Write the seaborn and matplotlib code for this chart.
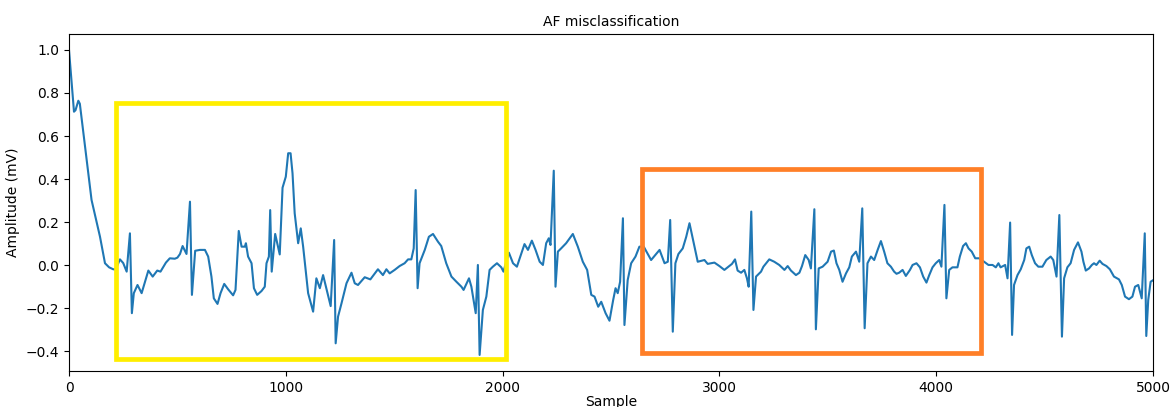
import matplotlib
matplotlib.use("Agg")
import matplotlib.pyplot as plt
from matplotlib.patches import Rectangle
import seaborn as sns
import pandas as pd

# ---- data (ECG trace, key points) ----
sample = [0, 23, 30, 43, 50, 74, 104, 143, 160, 166, 185, 204, 215, 235, 250, 266, 281, 290, 299, 316,
          335, 366, 386, 407, 422, 447, 465, 488, 500, 512, 524, 542, 558, 567, 582, 604, 627, 642, 657, 668,
          685, 699, 716, 734, 757, 768, 783, 796, 811, 816, 826, 842, 853, 868, 888, 903, 911, 922, 928, 935,
          951, 972, 985, 1000, 1011, 1022, 1031, 1041, 1057, 1069, 1080, 1103, 1126, 1141, 1157, 1172, 1187, 1207, 1223, 1230,
          1241, 1257, 1280, 1303, 1318, 1333, 1364, 1390, 1425, 1448, 1464, 1479, 1502, 1525, 1548, 1564, 1579, 1590, 1599, 1608,
          1617, 1641, 1660, 1679, 1702, 1717, 1740, 1764, 1787, 1810, 1820, 1845, 1856, 1876, 1886, 1894, 1909, 1925, 1940, 1955,
          1974, 1994, 2004, 2029, 2048, 2066, 2101, 2117, 2135, 2152, 2171, 2186, 2201, 2213, 2221, 2236, 2244, 2255, 2270, 2293,
          2324, 2347, 2370, 2390, 2409, 2424, 2441, 2455, 2475, 2493, 2510, 2521, 2531, 2542, 2555, 2562, 2577, 2593, 2613, 2631,
          2651, 2685, 2724, 2747, 2762, 2773, 2785, 2797, 2811, 2831, 2847, 2862, 2877, 2900, 2931, 2946, 2977, 3000, 3023, 3038,
          3058, 3072, 3084, 3100, 3115, 3127, 3135, 3147, 3157, 3169, 3192, 3203, 3230, 3253, 3276, 3300, 3315, 3330, 3353, 3369,
          3381, 3396, 3412, 3422, 3438, 3445, 3458, 3476, 3499, 3515, 3528, 3540, 3553, 3568, 3584, 3599, 3611, 3630, 3645, 3659,
          3670, 3683, 3699, 3714, 3730, 3745, 3760, 3775, 3791, 3806, 3817, 3829, 3845, 3860, 3879, 3891, 3909, 3925, 3940, 3955,
          3968, 3983, 3998, 4014, 4024, 4038, 4047, 4060, 4075, 4098, 4109, 4124, 4137, 4149, 4164, 4180, 4198, 4221, 4241, 4260,
          4275, 4287, 4297, 4318, 4329, 4341, 4350, 4359, 4375, 4390, 4406, 4416, 4429, 4441, 4456, 4471, 4490, 4508, 4528, 4540,
          4555, 4568, 4580, 4590, 4605, 4620, 4636, 4654, 4670, 4679, 4690, 4705, 4718, 4728, 4739, 4754, 4767, 4785, 4801, 4820,
          4843, 4856, 4871, 4889, 4905, 4917, 4932, 4948, 4962, 4969, 4978, 4989, 5000]

amplitude = [1.000, 0.713, 0.720, 0.764, 0.750, 0.550, 0.303, 0.132, 0.040, 0.009, -0.010, -0.019, -0.020, 0.027, 0.010, -0.030, 0.148, -0.223, -0.130, -0.092,
             -0.130, -0.025, -0.053, -0.025, -0.030, 0.012, 0.032, 0.030, 0.035, 0.052, 0.089, 0.052, 0.295, -0.138, 0.067, 0.071, 0.071, 0.040, -0.053, -0.154,
             -0.180, -0.130, -0.087, -0.112, -0.140, -0.115, 0.159, 0.086, 0.086, 0.102, 0.040, 0.009, -0.107, -0.138, -0.120, -0.100, 0.009, 0.040, 0.256, -0.030,
             0.145, 0.050, 0.360, 0.411, 0.520, 0.520, 0.427, 0.241, 0.102, 0.171, 0.086, -0.130, -0.216, -0.061, -0.107, -0.046, -0.107, -0.190, 0.117, -0.363,
             -0.239, -0.177, -0.084, -0.035, -0.084, -0.092, -0.056, -0.066, -0.019, -0.046, -0.019, -0.038, -0.022, -0.004, 0.009, 0.027, 0.027, 0.078, 0.349, -0.107,
             0.009, 0.071, 0.132, 0.145, 0.109, 0.089, 0.009, -0.053, -0.077, -0.100, -0.115, -0.061, -0.100, -0.223, 0.001, -0.417, -0.208, -0.146, -0.022, -0.007,
             0.009, -0.010, -0.030, 0.058, 0.009, -0.007, 0.098, 0.071, 0.114, 0.071, 0.016, 0.001, 0.102, 0.125, 0.094, 0.439, -0.100, 0.063, 0.078, 0.102,
             0.145, 0.086, 0.016, -0.022, -0.138, -0.146, -0.193, -0.170, -0.223, -0.258, -0.162, -0.107, -0.130, -0.077, 0.218, -0.278, -0.069, 0.009, 0.040, 0.086,
             0.086, 0.024, 0.071, 0.009, 0.016, 0.210, -0.309, 0.009, 0.052, 0.078, 0.132, 0.195, 0.125, 0.016, 0.024, 0.006, 0.012, -0.004, -0.022, -0.010,
             0.006, 0.027, -0.025, -0.035, -0.022, -0.061, -0.100, 0.249, -0.208, -0.053, -0.030, -0.007, 0.027, 0.016, 0.001, -0.022, -0.004, -0.025, -0.046, -0.035,
             -0.004, 0.047, 0.024, -0.015, 0.260, -0.298, -0.015, -0.007, 0.016, 0.063, 0.068, 0.009, -0.022, -0.077, -0.038, -0.010, 0.040, 0.063, 0.016, 0.264,
             -0.293, 0.009, 0.040, 0.024, 0.071, 0.112, 0.063, 0.009, -0.007, -0.030, -0.040, -0.035, -0.022, -0.050, -0.022, 0.001, 0.009, -0.010, -0.053, -0.081,
             -0.046, -0.010, 0.009, 0.024, -0.007, 0.280, -0.154, -0.022, -0.010, -0.010, 0.040, 0.089, 0.102, 0.078, 0.063, 0.032, 0.032, 0.016, 0.001, 0.001,
             -0.010, 0.009, -0.010, 0.001, -0.061, 0.198, -0.324, -0.092, -0.046, -0.019, 0.024, 0.078, 0.086, 0.047, 0.009, -0.007, -0.007, 0.024, 0.040, 0.024,
             -0.053, 0.233, -0.332, -0.061, -0.010, 0.009, 0.071, 0.106, 0.063, 0.016, -0.025, -0.015, 0.001, 0.009, 0.001, 0.021, 0.006, -0.004, -0.019, -0.053,
             -0.066, -0.092, -0.146, -0.158, -0.146, -0.100, -0.092, -0.154, 0.148, -0.329, -0.162, -0.077, -0.070]

x_ticks = [0, 1000, 2000, 3000, 4000, 5000]
y_ticks = [-0.4, -0.2, 0.0, 0.2, 0.4, 0.6, 0.8, 1.0]

title = "AF misclassification"
x_label = "Sample"
y_label = "Amplitude (mV)"

df = pd.DataFrame({"Sample": sample, "Amplitude": amplitude})

# ---- figure ----
W, H, DPI = 1172, 407, 100
fig = plt.figure(figsize=(W / DPI, H / DPI), dpi=DPI)
ax = fig.add_axes([69 / W, 1 - 371.3 / H, (1153 - 69) / W, (371.3 - 34) / H])

sns.lineplot(data=df, x="Sample", y="Amplitude", ax=ax, color="#1f77b4", linewidth=1.5)

ax.set_xlim(0, 5000)
ax.set_ylim(-0.493, 1.074)
ax.set_xticks(x_ticks)
ax.set_yticks(y_ticks)
ax.set_title(title, fontsize=10)
ax.set_xlabel(x_label, fontsize=10, labelpad=0)
ax.set_ylabel(y_label, fontsize=10)

# highlight boxes (annotations in data coordinates)
ax.add_patch(Rectangle((218, -0.434), 2014 - 218, 0.752 + 0.434, fill=False,
                       edgecolor="#ffee00", linewidth=3.4, zorder=3))
ax.add_patch(Rectangle((2642, -0.407), 4208 - 2642, 0.445 + 0.407, fill=False,
                       edgecolor="#ff7f27", linewidth=3.4, zorder=3))

fig.savefig("out.png", dpi=DPI)
